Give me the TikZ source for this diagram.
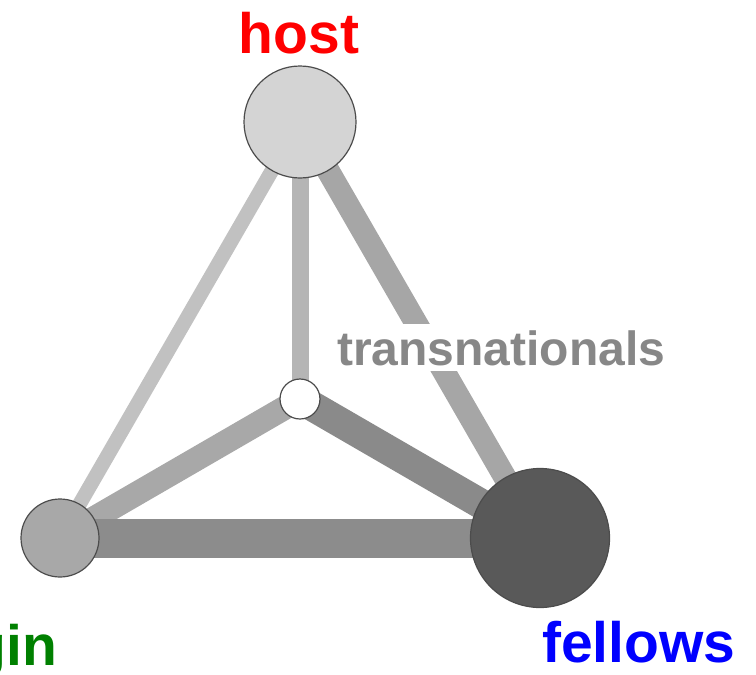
\documentclass[tikz,border=0pt]{standalone}
\usepackage{fontspec}
\setmainfont{Liberation Sans}
\begin{document}
\begin{tikzpicture}[x=1pt,y=-1pt,
  vtx/.style={circle,draw=black!70,line width=1.2pt,inner sep=0pt},
  edg/.style={line cap=butt},
  lbl/.style={font=\bfseries\fontsize{57}{57}\selectfont,inner sep=0pt}]
\useasboundingbox (0,0) rectangle (756,675);
\clip (0,0) rectangle (756,675);
\definecolor{nhost}{gray}{0.83}
\definecolor{norig}{gray}{0.66}
\definecolor{nfell}{gray}{0.35}
\coordinate (ch) at (300,122);
\coordinate (co) at (60,538);
\coordinate (cf) at (540,538);
\coordinate (ct) at (300,399);
% edges
\draw[edg,line width=14.5pt,color=black!24.5] (ch) -- (co);
\draw[edg,line width=17pt,color=black!29] (ch) -- (ct);
\draw[edg,line width=23pt,color=black!35] (ch) -- (cf);
\draw[edg,line width=24pt,color=black!34] (co) -- (ct);
\draw[edg,line width=30pt,color=black!46] (ct) -- (cf);
\draw[edg,line width=39pt,color=black!45] (co) -- (cf);
% transnationals label with white background
\node[font=\bfseries\fontsize{48}{48}\selectfont,text=black!47,fill=white,inner xsep=2pt,inner ysep=6pt,anchor=base west] (lt) at (335,365) {transnationals};
% nodes
\node[vtx,fill=nhost,minimum size=112pt] (host) at (ch) {};
\node[vtx,fill=norig,minimum size=78pt] (origin) at (co) {};
\node[vtx,fill=nfell,minimum size=139pt] (fellows) at (cf) {};
\node[vtx,fill=white,minimum size=40pt] (trans) at (ct) {};
% labels
\node[lbl,text=red,anchor=base] (lh) at (299,53) {host};
\node[lbl,text=blue,anchor=base west] (lf) at (542,662) {fellows};
\node[lbl,text=green!50!black,anchor=base east] (lo) at (57,665) {origin};
\end{tikzpicture}
\end{document}
